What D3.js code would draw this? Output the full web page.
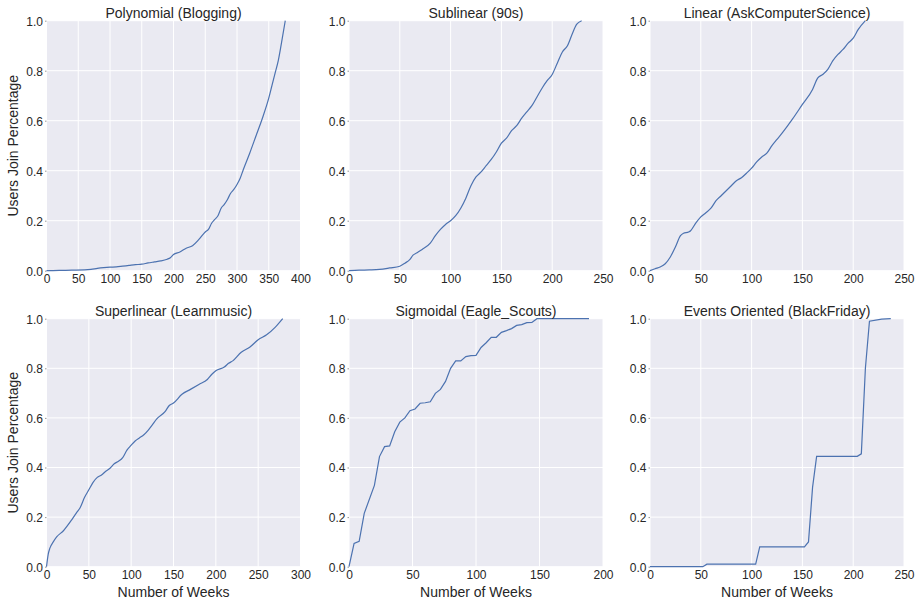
<!DOCTYPE html>
<html>
<head>
<meta charset="utf-8">
<script src="https://cdn.jsdelivr.net/npm/d3@7"></script>
<style>
  body { margin: 0; background: #fff; }
  svg text { font-family: "Liberation Sans", Arial, sans-serif; fill: #262626; }
</style>
</head>
<body>
<div id="main"></div>
<script>
// values
const titles = ['Polynomial (Blogging)', 'Sublinear (90s)', 'Linear (AskComputerScience)',
  'Superlinear (Learnmusic)', 'Sigmoidal (Eagle_Scouts)', 'Events Oriented (BlackFriday)'];
const xMax = [400, 250, 250, 300, 200, 250];
const yTicks = [0, 0.2, 0.4, 0.6, 0.8, 1.0];

const blogWeeks = [0,20,40,60,70,80,90,100,110,120,130,140,150,160,170,180,190,195,200,210,220,230,240,250,255,260,265,270,275,280,285,290,295,300,305,310,320,330,340,350,355,360,365,370,376];
const blogShare = [0,0.001,0.002,0.003,0.005,0.009,0.012,0.014,0.015,0.018,0.021,0.024,0.026,0.031,0.035,0.039,0.046,0.052,0.065,0.075,0.09,0.1,0.125,0.155,0.165,0.19,0.205,0.22,0.25,0.265,0.285,0.31,0.325,0.345,0.37,0.405,0.47,0.54,0.61,0.69,0.74,0.79,0.84,0.91,1.0];

const ninetiesWeeks = [0,10,20,30,40,50,55,60,63,67,72,80,85,90,95,100,105,110,115,120,125,130,135,140,145,150,155,160,165,170,175,180,185,190,195,200,205,210,215,220,224,229];
const ninetiesShare = [0,0.002,0.003,0.005,0.011,0.018,0.03,0.045,0.062,0.072,0.085,0.11,0.14,0.165,0.185,0.2,0.22,0.25,0.29,0.34,0.375,0.395,0.42,0.445,0.475,0.51,0.53,0.56,0.58,0.61,0.635,0.66,0.695,0.73,0.76,0.785,0.83,0.875,0.9,0.95,0.985,1.0];

const askWeeks = [0,5,10,15,20,25,30,33,38,40,45,50,55,60,65,70,80,85,90,95,100,105,110,115,120,125,130,140,150,160,165,170,175,180,185,190,195,200,205,212];
const askShare = [0,0.008,0.015,0.028,0.055,0.095,0.14,0.15,0.155,0.16,0.19,0.215,0.232,0.25,0.28,0.3,0.34,0.36,0.372,0.39,0.41,0.435,0.455,0.47,0.5,0.525,0.55,0.605,0.665,0.725,0.77,0.785,0.805,0.84,0.865,0.885,0.91,0.93,0.965,1.0];

const musicWeeks = [0,2,4,8,12,20,30,35,40,45,50,55,60,65,70,75,80,85,90,95,100,105,110,115,120,125,130,140,145,150,160,170,180,190,195,200,210,215,220,230,240,250,260,270,279];
const musicShare = [0,0.05,0.075,0.1,0.12,0.145,0.19,0.215,0.24,0.28,0.31,0.34,0.36,0.37,0.385,0.397,0.415,0.425,0.44,0.47,0.49,0.508,0.52,0.532,0.55,0.572,0.595,0.625,0.65,0.66,0.695,0.715,0.735,0.755,0.775,0.79,0.805,0.82,0.83,0.865,0.885,0.915,0.935,0.965,1.0];

const scoutWeeks = [0,4,8,12,20,24,28,32,36,40,44,48,52,56,60,64,68,72,76,80,84,88,92,96,100,104,108,112,116,120,124,128,132,136,140,144,148,189];
const scoutShare = [0,0.094,0.102,0.215,0.328,0.444,0.484,0.487,0.544,0.583,0.6,0.629,0.636,0.659,0.661,0.665,0.699,0.715,0.747,0.8,0.83,0.83,0.847,0.851,0.852,0.884,0.903,0.925,0.925,0.945,0.952,0.96,0.973,0.976,0.984,0.985,1.0,1.0];

const fridayWeeks = [0,52,56,104,108,152,156,160,164,204,208,212,216,228,237];
const fridayShare = [0,0,0.01,0.01,0.08,0.08,0.1,0.32,0.445,0.445,0.455,0.8,0.99,0.998,1.0];

const weeks = [blogWeeks, ninetiesWeeks, askWeeks, musicWeeks, scoutWeeks, fridayWeeks];
const shares = [blogShare, ninetiesShare, askShare, musicShare, scoutShare, fridayShare];

const w = 919, h = 600;
const colLeft = [46.5, 349, 650];
const plotW = 254;
const rowTop = [20.7, 318.7];
const rowH = [250, 248];

const svg = d3.select('#main')
  .append('svg')
  .attr('width', w)
  .attr('height', h);

titles.forEach((title, i) => {
  const col = i % 3, row = Math.floor(i / 3);
  const ph = rowH[row];
  const g = svg.append('g')
    .attr('transform', `translate(${colLeft[col]}, ${rowTop[row]})`);

  const x = d3.scaleLinear().domain([0, xMax[i]]).range([0, plotW]);
  const y = d3.scaleLinear().domain([0, 1]).range([ph, 0]);

  g.append('rect')
    .attr('width', plotW)
    .attr('height', ph)
    .attr('fill', '#EAEAF2');

  const xt = d3.range(0, xMax[i] + 1, 50);

  g.append('g').selectAll('line')
    .data(xt)
    .enter()
    .append('line')
    .attr('x1', d => x(d)).attr('x2', d => x(d))
    .attr('y1', 0).attr('y2', ph)
    .attr('stroke', '#fff')
    .attr('stroke-width', 1);

  g.append('g').selectAll('line')
    .data(yTicks)
    .enter()
    .append('line')
    .attr('x1', 0).attr('x2', plotW)
    .attr('y1', d => y(d)).attr('y2', d => y(d))
    .attr('stroke', '#fff')
    .attr('stroke-width', 1);

  const pts = weeks[i].map((d, k) => [d, shares[i][k]]);
  const line = d3.line()
    .x(d => x(d[0]))
    .y(d => y(d[1]))
    .curve(i >= 4 ? d3.curveLinear : d3.curveMonotoneX);

  g.append('path')
    .datum(pts)
    .attr('d', line)
    .attr('fill', 'none')
    .attr('stroke', '#4C72B0')
    .attr('stroke-width', 1.2);

  // axes
  const xAxis = g.append('g')
    .attr('transform', `translate(0, ${ph})`)
    .call(d3.axisBottom(x).tickValues(xt).tickSize(0).tickPadding(4).tickFormat(d3.format('d')));
  xAxis.select('.domain').remove();
  xAxis.selectAll('text').style('font-size', '12px').attr('fill', '#262626').attr('dy', '0.72em');

  const yAxis = g.append('g')
    .call(d3.axisLeft(y).tickValues(yTicks).tickSize(1.5).tickPadding(2).tickFormat(d3.format('.1f')));
  yAxis.select('.domain').remove();
  yAxis.selectAll('line').attr('stroke', '#999');
  yAxis.selectAll('text').style('font-size', '12px').attr('fill', '#262626').attr('dy', '0.36em');

  g.append('text')
    .attr('x', plotW / 2)
    .attr('y', -3)
    .attr('text-anchor', 'middle')
    .style('font-size', '14px')
    .text(title);

  if (col === 0) {
    g.append('text')
      .attr('transform', `translate(${-28.5}, ${ph / 2}) rotate(-90)`)
      .attr('text-anchor', 'middle')
      .style('font-size', '14px')
      .text('Users Join Percentage');
  }
  if (row === 1) {
    g.append('text')
      .attr('x', plotW / 2)
      .attr('y', ph + 30)
      .attr('text-anchor', 'middle')
      .style('font-size', '14px')
      .text('Number of Weeks');
  }
});
</script>
</body>
</html>
